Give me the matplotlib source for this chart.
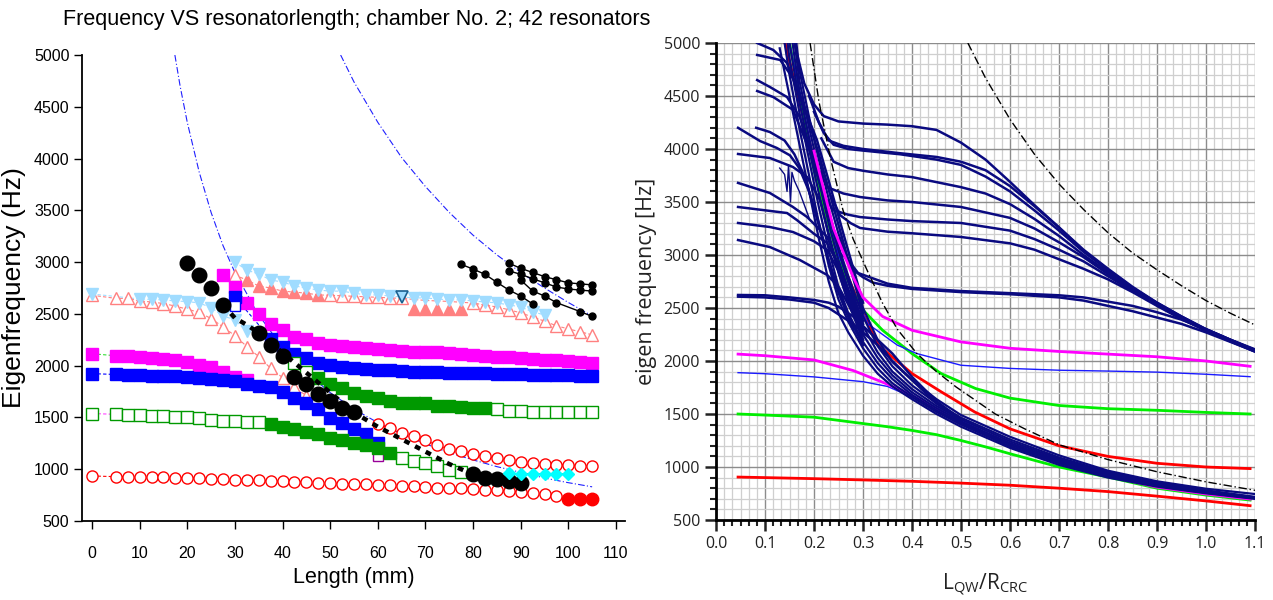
import matplotlib
matplotlib.use("Agg")
import matplotlib.pyplot as plt
from matplotlib.ticker import AutoMinorLocator

# ================= LEFT PANEL DATA (Length mm, frequency Hz) =================
red_lo_L = [0, 5, 7.5, 10, 12.5, 15, 17.5, 20, 22.5, 25, 27.5, 30, 32.5, 35, 37.5, 40, 42.5, 45, 47.5, 50,
            52.5, 55, 57.5, 60, 62.5, 65, 67.5, 70, 72.5, 75, 77.5, 80, 82.5, 85, 87.5, 90, 92.5, 95, 97.5]
red_lo_f = [935, 928, 926, 925, 924, 922, 920, 917, 914, 910, 905, 900, 896, 892, 888, 884, 880, 875, 870, 865,
            862, 858, 854, 850, 845, 840, 835, 829, 823, 818, 814, 809, 803, 796, 788, 779, 769, 758, 746]
red_fill_L = [100, 102.5, 105]
red_fill_f = [712, 712, 712]
red_up_L = [60, 62.5, 65, 67.5, 70, 72.5, 75, 77.5, 80, 82.5, 85, 87.5, 90, 92.5, 95, 97.5, 100, 102.5, 105]
red_up_f = [1433, 1394, 1346, 1317, 1279, 1231, 1192, 1173, 1144, 1125, 1106, 1087, 1070, 1060, 1052, 1045, 1040, 1035, 1030]

sal_lo_L = [0, 5, 7.5, 10, 12.5, 15, 17.5, 20, 22.5, 25, 27.5, 30, 32.5, 35, 37.5, 40, 42.5, 45]
sal_lo_f = [2680, 2650, 2650, 2625, 2615, 2600, 2575, 2545, 2515, 2455, 2375, 2290, 2185, 2087, 1975, 1885, 1790, 1710]
sal_up_open_L = [30, 50, 52.5, 55, 57.5, 60, 62.5, 65, 80, 82.5, 85, 87.5, 90, 92.5, 95, 97.5, 100, 102.5, 105]
sal_up_open_f = [2875, 2680, 2675, 2670, 2665, 2660, 2655, 2650, 2605, 2585, 2567, 2540, 2510, 2470, 2430, 2385, 2355, 2327, 2298]
sal_up_fill_L = [32.5, 35, 37.5, 40, 42.5, 45, 47.5]
sal_up_fill_f = [2827, 2770, 2750, 2720, 2710, 2700, 2683]
sal_mid_fill_L = [67.5, 70, 72.5, 75, 77.5]
sal_mid_fill_f = [2550, 2550, 2550, 2550, 2550]
sal_up_line_L = [30, 32.5, 35, 37.5, 40, 42.5, 45, 47.5, 50, 52.5, 55, 57.5, 60, 62.5, 65, 67.5, 70, 72.5, 75, 77.5, 80,
                 82.5, 85, 87.5, 90, 92.5, 95, 97.5, 100, 102.5, 105]
sal_up_line_f = [2875, 2827, 2770, 2750, 2720, 2710, 2700, 2683, 2680, 2675, 2670, 2665, 2660, 2655, 2650, 2640, 2630,
                 2625, 2620, 2612, 2605, 2585, 2567, 2540, 2510, 2470, 2430, 2385, 2355, 2327, 2298]

lb_lo_L = [0, 10, 12.5, 15, 17.5, 20, 22.5, 25, 27.5, 30, 32.5]
lb_lo_f = [2692, 2644, 2640, 2635, 2625, 2619, 2606, 2560, 2481, 2442, 2330]
lb_up_L = [30, 32.5, 35, 37.5, 40, 42.5, 45, 47.5, 50, 52.5, 55, 57.5, 60, 62.5, 67.5, 70, 72.5, 75, 77.5, 80,
           82.5, 85, 87.5, 90, 92.5, 95]
lb_up_f = [3000, 2923, 2885, 2827, 2808, 2770, 2750, 2730, 2720, 2720, 2700, 2683, 2683, 2673, 2654, 2654, 2644,
           2635, 2635, 2625, 2615, 2606, 2587, 2567, 2520, 2490]
lb_special_L = [65]
lb_special_f = [2663]

mag_lo_L = [0, 5, 7.5, 10, 12.5, 15, 17.5, 20, 22.5, 25, 27.5, 30, 32.5]
mag_lo_f = [2115, 2096, 2096, 2087, 2077, 2067, 2058, 2038, 2010, 1990, 1942, 1894, 1865]
mag_up_L = [27.5, 30, 32.5, 35, 37.5, 40, 42.5, 45, 47.5, 50, 52.5, 55, 57.5, 60, 62.5, 65, 67.5, 70, 72.5, 75,
            77.5, 80, 82.5, 85, 87.5, 90, 92.5, 95, 97.5, 100, 102.5, 105]
mag_up_f = [2875, 2760, 2605, 2500, 2404, 2346, 2280, 2260, 2221, 2202, 2192, 2183, 2173, 2164, 2155, 2145, 2135,
            2135, 2130, 2125, 2115, 2100, 2096, 2087, 2080, 2077, 2067, 2058, 2058, 2048, 2038, 2030]

blu_lo_L = [0, 5, 7.5, 10, 12.5, 15, 17.5, 20, 22.5, 25, 27.5, 30, 32.5, 35, 37.5, 40, 42.5, 45, 47.5, 50,
            52.5, 55, 57.5, 60]
blu_lo_f = [1923, 1915, 1910, 1907, 1905, 1900, 1897, 1895, 1882, 1875, 1859, 1849, 1827, 1801, 1798, 1750, 1692,
            1635, 1577, 1495, 1442, 1385, 1337, 1250]
blu_up_L = [30, 37.5, 40, 42.5, 45, 47.5, 50, 52.5, 55, 57.5, 60, 62.5, 65, 67.5, 70, 72.5, 75, 77.5, 80, 82.5,
            85, 87.5, 90, 92.5, 95, 97.5, 100, 102.5, 105]
blu_up_f = [2663, 2260, 2183, 2115, 2077, 2029, 2010, 1990, 1980, 1970, 1962, 1955, 1950, 1942, 1940, 1935, 1933,
            1933, 1930, 1925, 1920, 1918, 1915, 1912, 1910, 1908, 1906, 1905, 1904]
blu_open_L = [30]
blu_open_f = [2580]
pur_open_L = [60]
pur_open_f = [1125]

grn_lo_open_L = [0, 5, 7.5, 10, 12.5, 15, 17.5, 20, 22.5, 25, 27.5, 30, 32.5, 35, 65, 67.5, 70, 72.5, 75, 77.5]
grn_lo_open_f = [1538, 1530, 1528, 1520, 1518, 1510, 1505, 1500, 1490, 1480, 1470, 1462, 1455, 1452,
                 1106, 1077, 1058, 1029, 990, 971]
grn_lo_fill_L = [37.5, 40, 42.5, 45, 47.5, 50, 52.5, 55, 57.5, 60, 62.5]
grn_lo_fill_f = [1433, 1404, 1390, 1356, 1337, 1298, 1279, 1250, 1231, 1202, 1154]
grn_up_open_L = [42.5, 45, 85, 87.5, 90, 92.5, 95, 97.5, 100, 102.5, 105]
grn_up_open_f = [2029, 1942, 1577, 1560, 1558, 1552, 1550, 1548, 1548, 1548, 1548]
grn_up_fill_L = [47.5, 50, 52.5, 55, 57.5, 60, 62.5, 65, 67.5, 70, 72.5, 75, 77.5, 80, 82.5]
grn_up_fill_f = [1885, 1827, 1788, 1740, 1711, 1692, 1663, 1644, 1640, 1635, 1615, 1612, 1600, 1596, 1587]

blk_big_L = [20, 22.5, 25, 27.5, 35, 37.5, 40, 42.5, 45, 47.5, 50, 52.5, 55, 80, 82.5, 85, 87.5, 90]
blk_big_f = [2990, 2875, 2750, 2590, 2317, 2202, 2096, 1894, 1827, 1731, 1654, 1596, 1548, 950, 915, 905, 890, 870]
blk_dash_L = [27.5, 30, 32.5, 35, 55, 60, 65, 70, 75, 80]
blk_dash_f = [2590, 2460, 2394, 2317, 1548, 1410, 1290, 1170, 1050, 950]

cyan_L = [87.5, 90, 92.5, 95, 97.5, 100]
cyan_f = [962, 955, 955, 955, 955, 955]

bk_a_L = [77.5, 80, 82.5, 85, 87.5, 90, 92.5]
bk_a_f = [2978, 2933, 2882, 2805, 2731, 2673, 2596]
bk_b_L = [80]
bk_b_f = [2875]
bk_c_L = [87.5, 90, 92.5, 95, 97.5, 100, 102.5, 105]
bk_c_f = [2990, 2940, 2900, 2860, 2830, 2800, 2790, 2780]
bk_d_L = [87.5, 90, 92.5, 95, 97.5, 100, 102.5, 105]
bk_d_f = [2916, 2882, 2840, 2800, 2760, 2740, 2730, 2720]
bk_e_L = [90, 92.5, 95, 97.5, 102.5, 105]
bk_e_f = [2827, 2721, 2673, 2609, 2522, 2476]

dd1_L = [17.4, 18.5, 20, 22.5, 25, 27.5, 30, 35, 40, 45, 50, 55, 60, 65, 70, 75, 80, 85, 90, 95, 100, 105]
dd1_f = [5000, 4700, 4350, 3870, 3480, 3160, 2900, 2490, 2175, 1935, 1740, 1580, 1450, 1340, 1245, 1160, 1090, 1025,
         970, 915, 870, 830]
dd2_L = [52.2, 55, 60, 65, 70, 75, 80, 85, 90, 95, 100, 105]
dd2_f = [5000, 4740, 4350, 4010, 3730, 3480, 3260, 3070, 2900, 2750, 2610, 2480]

left_yticks = [500, 1000, 1500, 2000, 2500, 3000, 3500, 4000, 4500, 5000]
left_xticks = [0, 10, 20, 30, 40, 50, 60, 70, 80, 90, 100, 110]

# ================= RIGHT PANEL DATA (L_QW/R_CRC, eigen frequency Hz) =================
xb = [0.13, 0.15, 0.17, 0.19, 0.21, 0.23, 0.25, 0.27, 0.3, 0.33, 0.36, 0.4, 0.45, 0.5, 0.6, 0.7, 0.8, 0.9, 1.0, 1.1]
bund1 = [4950, 4500, 4050, 3600, 3150, 2750, 2450, 2270, 2050, 1880, 1760, 1640, 1500, 1380, 1180, 1020, 900, 815, 752, 700]
bund2 = [5300, 4700, 4200, 3750, 3300, 2900, 2580, 2370, 2120, 1930, 1790, 1660, 1520, 1400, 1195, 1035, 912, 822, 757, 703]
bund3 = [5600, 4850, 4350, 3900, 3450, 3050, 2700, 2450, 2180, 1980, 1830, 1680, 1535, 1415, 1210, 1048, 922, 830, 762, 706]
bund4 = [5900, 5000, 4450, 4000, 3580, 3180, 2830, 2560, 2250, 2030, 1865, 1705, 1555, 1430, 1225, 1062, 932, 838, 768, 710]
bund5 = [6200, 5200, 4550, 4100, 3700, 3300, 2950, 2680, 2330, 2080, 1900, 1735, 1575, 1450, 1242, 1076, 942, 846, 774, 714]
bund6 = [6500, 5400, 4650, 4200, 3800, 3420, 3080, 2800, 2420, 2140, 1950, 1770, 1600, 1465, 1260, 1090, 952, 854, 780, 718]
bund7 = [6800, 5600, 4750, 4300, 3900, 3530, 3200, 2950, 2500, 2200, 1990, 1820, 1640, 1490, 1285, 1110, 965, 865, 795, 745]

p1_x = [0.16, 0.18, 0.2, 0.22, 0.25, 0.3, 0.35, 0.4, 0.45, 0.5, 0.55, 0.6, 0.65, 0.7, 0.75, 0.8, 0.85, 0.9, 0.95, 1.0, 1.05, 1.1]
p1_f = [5000, 4620, 4420, 4310, 4260, 4240, 4230, 4215, 4180, 4060, 3900, 3690, 3470, 3260, 3040, 2860, 2690, 2550, 2420, 2300, 2200, 2110]
p2_x = [0.19, 0.21, 0.23, 0.26, 0.3, 0.376, 0.45, 0.5, 0.55, 0.6, 0.65, 0.7, 0.75, 0.8, 0.85, 0.9, 0.95, 1.0, 1.05, 1.1]
p2_f = [4500, 4250, 4080, 4030, 4000, 3960, 3925, 3880, 3800, 3650, 3460, 3260, 3050, 2870, 2700, 2550, 2420, 2300, 2200, 2105]
p2b_x = [0.2, 0.22, 0.24, 0.27, 0.3, 0.376, 0.45, 0.5, 0.55, 0.6, 0.65, 0.7, 0.75, 0.8, 0.85, 0.9, 0.95, 1.0, 1.05, 1.1]
p2b_f = [4350, 4150, 4040, 4000, 3985, 3950, 3900, 3850, 3740, 3600, 3420, 3230, 3030, 2860, 2690, 2540, 2410, 2295, 2195, 2100]
p3_x = [0.215, 0.24, 0.27, 0.3, 0.35, 0.4, 0.5, 0.55, 0.6, 0.65, 0.7, 0.75, 0.8, 0.85, 0.9, 0.95, 1.0, 1.05, 1.1]
p3_f = [4100, 3880, 3820, 3795, 3760, 3735, 3640, 3580, 3480, 3340, 3180, 3000, 2840, 2680, 2540, 2410, 2295, 2195, 2100]
p4_x = [0.21, 0.227, 0.26, 0.294, 0.35, 0.4, 0.5, 0.6, 0.65, 0.7, 0.75, 0.8, 0.85, 0.9, 0.95, 1.0, 1.05, 1.1]
p4_f = [3800, 3640, 3580, 3547, 3515, 3500, 3453, 3350, 3250, 3120, 2980, 2820, 2670, 2535, 2405, 2290, 2190, 2095]
p5_x = [0.22, 0.239, 0.27, 0.294, 0.35, 0.4, 0.5, 0.6, 0.65, 0.7, 0.75, 0.8, 0.85, 0.9, 0.95, 1.0, 1.05, 1.1]
p5_f = [3560, 3424, 3380, 3358, 3335, 3320, 3302, 3230, 3150, 3050, 2940, 2800, 2660, 2530, 2400, 2288, 2188, 2092]
p6_x = [0.235, 0.253, 0.275, 0.294, 0.35, 0.4, 0.5, 0.6, 0.65, 0.7, 0.75, 0.8, 0.85, 0.9, 0.95, 1.0, 1.05, 1.1]
p6_f = [3550, 3377, 3300, 3255, 3220, 3205, 3170, 3110, 3050, 2960, 2870, 2770, 2650, 2520, 2395, 2285, 2185, 2088]
n26a_x = [0.25, 0.27, 0.29, 0.32, 0.35, 0.4, 0.5, 0.6, 0.7, 0.75, 0.8, 0.85, 0.9, 0.95, 1.0, 1.05, 1.1]
n26a_f = [3150, 2950, 2830, 2780, 2730, 2690, 2660, 2640, 2620, 2600, 2560, 2520, 2460, 2390, 2300, 2200, 2100]
n26b_x = [0.26, 0.28, 0.3, 0.32, 0.35, 0.4, 0.5, 0.6, 0.7, 0.75, 0.8, 0.85, 0.9, 0.95, 1.0, 1.05, 1.1]
n26b_f = [3000, 2860, 2790, 2740, 2710, 2680, 2650, 2630, 2600, 2570, 2520, 2470, 2410, 2350, 2270, 2180, 2090]

l1_x = [0.045, 0.09, 0.124, 0.151, 0.17, 0.19, 0.21, 0.23, 0.25, 0.27, 0.3]
l1_f = [4200, 4075, 4010, 3940, 3820, 3600, 3300, 2950, 2650, 2420, 2150]
l1b_x = [0.082, 0.11, 0.14, 0.16, 0.18, 0.2, 0.22, 0.25, 0.28]
l1b_f = [4200, 4160, 4080, 3950, 3750, 3450, 3100, 2650, 2300]
l2_x = [0.045, 0.11, 0.157, 0.186, 0.212, 0.23, 0.25, 0.27, 0.3]
l2_f = [3953, 3915, 3830, 3736, 3519, 3200, 2850, 2550, 2200]
l3_x = [0.045, 0.11, 0.157, 0.186, 0.227, 0.25, 0.27, 0.3]
l3_f = [3680, 3585, 3453, 3358, 3170, 2900, 2600, 2250]
l4_x = [0.045, 0.145, 0.165, 0.2, 0.227, 0.25, 0.27, 0.3]
l4_f = [3453, 3396, 3330, 3200, 3113, 2900, 2650, 2300]
l5_x = [0.045, 0.11, 0.157, 0.2, 0.227, 0.25, 0.27, 0.3]
l5_f = [3302, 3264, 3217, 3130, 3047, 2850, 2600, 2280]
l6_x = [0.045, 0.11, 0.171, 0.227, 0.25, 0.28, 0.3]
l6_f = [3141, 3075, 2953, 2811, 2700, 2450, 2300]
l7_x = [0.045, 0.1, 0.15, 0.2, 0.23, 0.25, 0.28, 0.3, 0.33, 0.36, 0.4, 0.45, 0.5]
l7_f = [2623, 2620, 2600, 2576, 2550, 2513, 2420, 2330, 2200, 2070, 1850, 1620, 1450]
l8_x = [0.045, 0.1, 0.15, 0.2, 0.23, 0.25, 0.28, 0.3, 0.33, 0.36, 0.4, 0.45, 0.5]
l8_f = [2607, 2600, 2580, 2550, 2500, 2440, 2350, 2270, 2150, 2000, 1820, 1600, 1440]
t1_x = [0.084, 0.117, 0.145, 0.171, 0.206, 0.23, 0.26, 0.3]
t1_f = [5000, 4934, 4811, 4490, 4085, 3700, 3200, 2550]
t2_x = [0.084, 0.131, 0.16, 0.18, 0.21, 0.24, 0.27, 0.3]
t2_f = [4887, 4840, 4650, 4400, 3950, 3450, 2950, 2450]
t3_x = [0.084, 0.11, 0.145, 0.171, 0.2, 0.23, 0.26, 0.3]
t3_f = [4650, 4585, 4490, 4302, 3900, 3400, 2900, 2350]
t4_x = [0.084, 0.117, 0.157, 0.19, 0.22, 0.25, 0.28, 0.3]
t4_f = [4547, 4490, 4370, 4000, 3550, 3050, 2600, 2380]
w_x = [0.13, 0.14, 0.145, 0.148, 0.152, 0.155, 0.16, 0.17, 0.19]
w_f = [3820, 3760, 3600, 3850, 3500, 3780, 3700, 3600, 3350]

red_lo_x = [0.045, 0.1, 0.2, 0.3, 0.4, 0.5, 0.6, 0.7, 0.8, 0.9, 1.0, 1.09]
red_lo_y = [905, 900, 890, 878, 865, 848, 828, 800, 768, 725, 680, 635]
red_up_x = [0.141, 0.17, 0.2, 0.23, 0.26, 0.3, 0.331, 0.4, 0.46, 0.528, 0.6, 0.7, 0.8, 0.9, 1.0, 1.09]
red_up_y = [5000, 4450, 3900, 3350, 2900, 2450, 2150, 1882, 1708, 1519, 1360, 1200, 1100, 1035, 1000, 985]
grn_up_x = [0.15, 0.2, 0.25, 0.28, 0.3, 0.34, 0.4, 0.46, 0.53, 0.6, 0.7, 0.8, 0.9, 1.0, 1.09]
grn_up_y = [5000, 3800, 2950, 2650, 2480, 2290, 2070, 1880, 1740, 1650, 1580, 1550, 1535, 1515, 1500]
grn_lo_x = [0.045, 0.1, 0.2, 0.3, 0.35, 0.4, 0.45, 0.5, 0.55, 0.6, 0.7, 0.8, 0.9, 1.0, 1.09]
grn_lo_y = [1500, 1490, 1470, 1410, 1380, 1345, 1305, 1250, 1190, 1125, 1000, 905, 800, 735, 688]
mag_up_x = [0.2, 0.206, 0.24, 0.28, 0.3, 0.34, 0.4, 0.5, 0.6, 0.7, 0.8, 0.9, 1.0, 1.09]
mag_up_y = [3980, 3870, 3250, 2790, 2600, 2420, 2290, 2180, 2120, 2090, 2065, 2040, 2000, 1950]
mag_lo_x = [0.045, 0.1, 0.2, 0.28, 0.34, 0.38, 0.43, 0.5, 0.6, 0.7, 0.8, 0.9, 1.0, 1.09]
mag_lo_y = [2065, 2050, 2010, 1910, 1800, 1720, 1600, 1420, 1220, 1060, 915, 810, 745, 697]
blu_up_x = [0.15, 0.2, 0.25, 0.28, 0.31, 0.37, 0.41, 0.5, 0.6, 0.7, 0.8, 0.9, 1.0, 1.09]
blu_up_y = [5000, 3900, 3000, 2650, 2350, 2150, 2070, 1960, 1930, 1913, 1905, 1895, 1875, 1852]
blu_lo_x = [0.045, 0.1, 0.2, 0.3, 0.35, 0.4, 0.46, 0.52, 0.6, 0.7, 0.8, 0.9, 1.0, 1.09]
blu_lo_y = [1890, 1880, 1850, 1805, 1760, 1660, 1535, 1395, 1215, 1060, 925, 820, 752, 703]
dd_lo_x = [0.192, 0.21, 0.233, 0.259, 0.28, 0.308, 0.34, 0.37, 0.41, 0.45, 0.49, 0.57, 0.63, 0.7, 0.8, 0.9, 1.0, 1.1]
dd_lo_y = [5000, 4450, 3925, 3425, 3150, 2860, 2545, 2300, 2070, 1900, 1755, 1500, 1360, 1210, 1070, 955, 860, 780]
dd_up_x = [0.514, 0.55, 0.6, 0.65, 0.7, 0.75, 0.8, 0.85, 0.9, 0.95, 1.0, 1.05, 1.1]
dd_up_y = [5000, 4670, 4280, 3950, 3670, 3430, 3210, 3020, 2860, 2710, 2570, 2450, 2340]

right_yticks = [500, 1000, 1500, 2000, 2500, 3000, 3500, 4000, 4500, 5000]
right_xticks = [0.0, 0.1, 0.2, 0.3, 0.4, 0.5, 0.6, 0.7, 0.8, 0.9, 1.0, 1.1]

# ================= FIGURE =================
fig = plt.figure(figsize=(12.73, 6.0), dpi=100)

# ---------- left ----------
axL = fig.add_axes([82 / 1273, 1 - 521 / 600, (625 - 82) / 1273, (521 - 55) / 600])
LF = ['Liberation Sans', 'DejaVu Sans']
axL.set_xlim(-2.1, 111.9)
axL.set_ylim(500, 5000)
for s in ['top', 'right']:
    axL.spines[s].set_visible(False)
for s in ['left', 'bottom']:
    axL.spines[s].set_linewidth(1.3)
axL.set_xticks(left_xticks)
axL.set_yticks(left_yticks)
axL.tick_params(direction='out', length=6, width=1, labelsize=11.5, pad=3)
for lab in axL.get_xticklabels() + axL.get_yticklabels():
    lab.set_family(LF)
axL.tick_params(axis='x', pad=12)

dash = (0, (3, 2))
axL.plot(dd1_L, dd1_f, color='#2020ff', lw=0.8, ls=(0, (6, 2, 1, 2)), zorder=1)
axL.plot(dd2_L, dd2_f, color='#2020ff', lw=0.8, ls=(0, (6, 2, 1, 2)), zorder=1)

axL.plot(red_lo_L + red_fill_L, red_lo_f + red_fill_f, color='#ff0000', lw=0.8, ls=dash, zorder=2)
axL.plot(red_up_L, red_up_f, color='#ff0000', lw=0.8, ls=dash, zorder=2)
axL.plot(sal_lo_L, sal_lo_f, color='#ff8080', lw=0.8, ls=dash, zorder=2)
axL.plot(sal_up_line_L, sal_up_line_f, color='#ff8080', lw=0.8, ls=dash, zorder=2)
axL.plot(lb_lo_L, lb_lo_f, color='#a0dcff', lw=0.8, ls=dash, zorder=2)
axL.plot(lb_up_L, lb_up_f, color='#a0dcff', lw=0.8, ls=dash, zorder=2)
axL.plot(mag_lo_L, mag_lo_f, color='#33dd33', lw=0.8, ls=dash, zorder=2)
axL.plot(mag_up_L, mag_up_f, color='#33dd33', lw=0.8, ls=dash, zorder=2)
axL.plot(blu_lo_L, blu_lo_f, color='#0000ff', lw=0.8, ls=dash, zorder=2)
axL.plot(blu_up_L, blu_up_f, color='#0000ff', lw=0.8, ls=dash, zorder=2)
axL.plot(grn_lo_open_L[:14] + grn_lo_fill_L + grn_lo_open_L[14:],
         grn_lo_open_f[:14] + grn_lo_fill_f + grn_lo_open_f[14:], color='#ff44ff', lw=0.8, ls=dash, zorder=2)
axL.plot(grn_up_open_L[:2] + grn_up_fill_L + grn_up_open_L[2:],
         grn_up_open_f[:2] + grn_up_fill_f + grn_up_open_f[2:], color='#ff44ff', lw=0.8, ls=dash, zorder=2)
axL.plot(cyan_L, cyan_f, color='#00aa88', lw=0.8, zorder=2)

ms = 8
kw = dict(ls='none', zorder=3, clip_on=False)
axL.plot(red_lo_L, red_lo_f, marker='o', ms=ms, mfc='white', mec='#ff0000', mew=1, **kw)
axL.plot(red_up_L, red_up_f, marker='o', ms=ms, mfc='white', mec='#ff0000', mew=1, **kw)
axL.plot(red_fill_L, red_fill_f, marker='o', ms=ms + 1, mfc='#ff0000', mec='#ff0000', **kw)
axL.plot(sal_lo_L, sal_lo_f, marker='^', ms=ms + 1, mfc='white', mec='#ff8080', mew=1, **kw)
axL.plot(sal_up_open_L, sal_up_open_f, marker='^', ms=ms + 1, mfc='white', mec='#ff8080', mew=1, **kw)
axL.plot(sal_up_fill_L, sal_up_fill_f, marker='^', ms=ms + 1, mfc='#ff8080', mec='#ff8080', **kw)
axL.plot(sal_mid_fill_L, sal_mid_fill_f, marker='^', ms=ms + 1, mfc='#ff8080', mec='#ff8080', **kw)
axL.plot(lb_lo_L, lb_lo_f, marker='v', ms=ms + 1, mfc='#a0dcff', mec='#a0dcff', **kw)
axL.plot(lb_up_L, lb_up_f, marker='v', ms=ms + 1, mfc='#a0dcff', mec='#a0dcff', **kw)
axL.plot(lb_special_L, lb_special_f, marker='v', ms=ms, mfc='#a0dcff', mec='#1a6090', mew=1.2, **kw)
axL.plot(mag_lo_L, mag_lo_f, marker='s', ms=ms, mfc='#ff00ff', mec='#ff00ff', **kw)
axL.plot(mag_up_L, mag_up_f, marker='s', ms=ms, mfc='#ff00ff', mec='#ff00ff', **kw)
axL.plot(blu_lo_L, blu_lo_f, marker='s', ms=ms, mfc='#0000ff', mec='#0000ff', **kw)
axL.plot(blu_up_L, blu_up_f, marker='s', ms=ms, mfc='#0000ff', mec='#0000ff', **kw)
axL.plot(blu_open_L, blu_open_f, marker='s', ms=ms - 1, mfc='white', mec='#0000ff', mew=1, **kw)
axL.plot(pur_open_L, pur_open_f, marker='s', ms=ms - 1, mfc='white', mec='#990099', mew=1, **kw)
axL.plot(grn_lo_open_L, grn_lo_open_f, marker='s', ms=ms, mfc='white', mec='#009900', mew=1, **kw)
axL.plot(grn_lo_fill_L, grn_lo_fill_f, marker='s', ms=ms, mfc='#009900', mec='#009900', **kw)
axL.plot(grn_up_open_L, grn_up_open_f, marker='s', ms=ms, mfc='white', mec='#009900', mew=1, **kw)
axL.plot(grn_up_fill_L, grn_up_fill_f, marker='s', ms=ms, mfc='#009900', mec='#009900', **kw)
axL.plot(blk_dash_L, blk_dash_f, color='black', lw=3.2, ls=(0, (1.3, 1.4)), zorder=3.5)
axL.plot(blk_big_L, blk_big_f, marker='o', ms=10.5, mfc='black', mec='black', **kw)
axL.plot(cyan_L, cyan_f, marker='D', ms=6.5, mfc='#00ffff', mec='#00ffff', **kw)
for Lx, fy in [(bk_a_L, bk_a_f), (bk_c_L, bk_c_f), (bk_d_L, bk_d_f), (bk_e_L, bk_e_f)]:
    axL.plot(Lx, fy, color='black', lw=1, marker='o', ms=5, zorder=4)
axL.plot(bk_b_L, bk_b_f, color='black', marker='o', ms=5, ls='none', zorder=4)

axL.set_xlabel('Length (mm)', fontsize=15.5, family=LF, labelpad=4)
axL.set_ylabel('Eigenfrequency (Hz)', fontsize=19, family=LF, labelpad=6)
fig.text(357 / 1273, 1 - 19 / 600, 'Frequency VS resonatorlength; chamber No. 2; 42 resonators',
         fontsize=15.5, family=LF, ha='center', va='center')

# ---------- right ----------
RF = ['Open Sans', 'DejaVu Sans']
axR = fig.add_axes([716 / 1273, 1 - 520 / 600, (1255 - 716) / 1273, (520 - 43) / 600])
axR.set_xlim(0, 1.1)
axR.set_ylim(500, 5000)
axR.set_xticks(right_xticks)
axR.set_yticks(right_yticks)
axR.set_xticklabels(['%.1f' % v for v in right_xticks])
axR.xaxis.set_minor_locator(AutoMinorLocator(6))
axR.yaxis.set_minor_locator(AutoMinorLocator(5))
axR.grid(which='minor', color='#cfcfcf', lw=0.9, zorder=0)
axR.grid(which='major', color='#8c8c8c', lw=1.0, zorder=0)
axR.set_axisbelow(True)
for s in ['top', 'right']:
    axR.spines[s].set_visible(False)
for s in ['left', 'bottom']:
    axR.spines[s].set_linewidth(2)
axR.tick_params(which='major', direction='out', length=8, width=1.8, labelsize=11.5, colors='#222222')
axR.tick_params(which='minor', direction='out', length=4.5, width=1.5, color='#222222')
for lab in axR.get_xticklabels() + axR.get_yticklabels():
    lab.set_family(RF)

# coloured curves partly hidden under the navy bundle
axR.plot(red_up_x, red_up_y, color='#ff0000', lw=2.0, zorder=1.5)
axR.plot(grn_up_x, grn_up_y, color='#00ee00', lw=2.0, zorder=1.5)
axR.plot(blu_up_x, blu_up_y, color='#1a1aff', lw=1.0, zorder=1.5)
axR.plot(grn_lo_x, grn_lo_y, color='#00ee00', lw=2.0, zorder=1.5)
axR.plot(blu_lo_x, blu_lo_y, color='#1a1aff', lw=1.0, zorder=1.5)
axR.plot(mag_lo_x, mag_lo_y, color='#ff00ff', lw=2.0, zorder=1.6)

navy = '#0a0a80'
for fy in [bund1, bund2, bund3, bund4, bund5, bund6, bund7]:
    axR.plot(xb, fy, color=navy, lw=1.6, zorder=2)
for xx, fy in [(p1_x, p1_f), (p2_x, p2_f), (p2b_x, p2b_f), (p3_x, p3_f), (p4_x, p4_f), (p5_x, p5_f),
               (p6_x, p6_f), (n26a_x, n26a_f), (n26b_x, n26b_f), (l1_x, l1_f), (l1b_x, l1b_f),
               (l2_x, l2_f), (l3_x, l3_f), (l4_x, l4_f), (l5_x, l5_f), (l6_x, l6_f), (l7_x, l7_f),
               (l8_x, l8_f), (t1_x, t1_f), (t2_x, t2_f), (t3_x, t3_f), (t4_x, t4_f)]:
    axR.plot(xx, fy, color=navy, lw=1.8, zorder=2)
axR.plot(w_x, w_f, color=navy, lw=1.0, zorder=2)

axR.plot(mag_up_x, mag_up_y, color='#ff00ff', lw=2.0, zorder=2.5)
axR.plot(red_lo_x, red_lo_y, color='#ff0000', lw=2.0, zorder=2.5)
axR.plot(dd_lo_x, dd_lo_y, color='black', lw=1.0, ls=(0, (6, 2, 1, 2)), zorder=4)
axR.plot(dd_up_x, dd_up_y, color='black', lw=1.0, ls=(0, (6, 2, 1, 2)), zorder=4)

axR.set_ylabel('eigen frequency [Hz]', fontsize=15.5, family=RF, color='#222222', labelpad=5)
axR.set_xlabel(r'$\mathregular{L_{QW}/R_{CRC}}$', fontsize=15, family=RF, color='#222222', labelpad=14)

fig.savefig('out.png', dpi=100)
